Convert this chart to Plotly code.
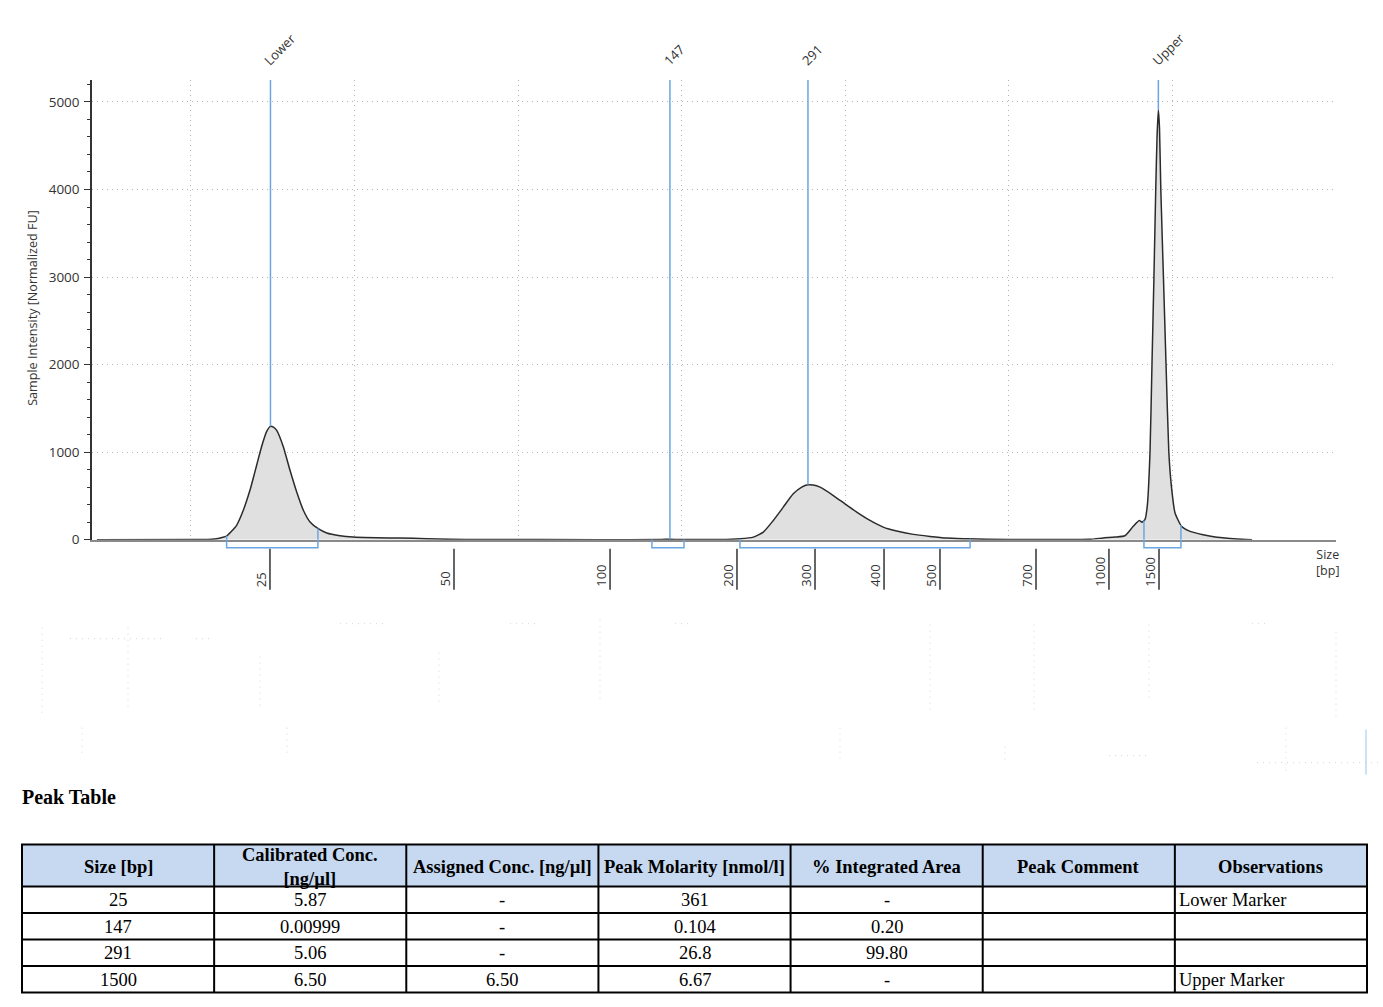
import numpy as np
import plotly.graph_objects as go

W, H = 1383, 1007
SY = 1.0085   # the snapshot comes back ~0.99 tall, so stretch page rows a touch

# ── data ────────────────────────────────────────────────────────────────────
# x axis is migration time (s); the size ladder is placed on it
ladder_bp = ["25", "50", "100", "200", "300", "400", "500", "700", "1000", "1500"]
ladder_t = [24.83, 36.08, 45.62, 53.38, 58.15, 62.37, 65.79, 71.66, 76.12, 79.18]

trace_t = [
    14.25, 20.55, 21.28, 21.57, 21.90, 22.18, 22.45, 22.79, 23.20, 23.61,
    24.02, 24.32, 24.63, 24.86, 25.04, 25.24, 25.64, 26.05, 26.46, 26.87,
    27.28, 27.78, 28.30, 29.11, 29.92, 31.35, 32.78, 34.41, 35.83, 37.67,
    45.00, 48.67, 49.28, 49.90, 52.34, 53.56, 54.38, 54.99, 55.60, 56.21,
    56.82, 57.34, 57.72, 58.03, 58.46, 59.27, 59.98, 60.70, 61.51, 62.32,
    63.14, 64.16, 65.18, 66.20, 67.42, 68.65, 71.29, 74.96, 75.76, 76.49,
    77.10, 77.59, 77.97, 78.14, 78.32, 78.46, 78.63, 78.75, 78.87, 78.98,
    79.06, 79.14, 79.21, 79.29, 79.45, 79.61, 79.78, 79.96, 80.16, 80.57,
    81.08, 81.87, 82.73, 83.95, 84.87,
]
trace_fu = [
    0, 2, 5, 11, 25, 42, 90, 165, 337, 567,
    854, 1065, 1237, 1295, 1285, 1249, 1065, 797, 548, 337,
    203, 126, 77, 46, 31, 23, 19, 12, 4, 2,
    1, 2, 6, 2, 2, 11, 30, 87, 220, 372,
    524, 600, 627, 625, 600, 505, 410, 315, 220, 144,
    99, 61, 38, 19, 11, 4, 2, 5, 20, 30,
    45, 150, 220, 200, 230, 380, 1000, 2000, 3000, 4000,
    4600, 4910, 4700, 4000, 3000, 2000, 1000, 570, 305, 150,
    95, 57, 27, 8, 0,
]

peak_names = ["Lower", "147", "291", "Upper"]
peak_t = [24.86, 49.28, 57.72, 79.14]
peak_fu = [1295, 6, 627, 4910]
peak_from = [22.18, 48.18, 53.56, 78.26]
peak_to = [27.76, 50.14, 67.63, 80.52]

tbl_header = ["Size [bp]", "Calibrated Conc.<br>[ng/µl]", "Assigned Conc. [ng/µl]",
              "Peak Molarity [nmol/l]", "% Integrated Area", "Peak Comment", "Observations"]
tbl_size = ["25", "147", "291", "1500"]
tbl_calib = ["5.87", "0.00999", "5.06", "6.50"]
tbl_assigned = ["-", "-", "-", "6.50"]
tbl_molarity = ["361", "0.104", "26.8", "6.67"]
tbl_area = ["-", "0.20", "99.80", "-"]
tbl_comment = ["", "", "", ""]
tbl_obs = ["Lower Marker", "", "", "Upper Marker"]

# faint leftovers of a hidden second panel (pixel segments: x0, y0, x1, y1)
ghost_dots = [
    (42, 628, 42, 717), (128, 628, 128, 712), (260, 657, 260, 707), (439, 653, 439, 707),
    (600, 620, 600, 700), (930, 625, 930, 712), (1034, 625, 1034, 712),
    (1149, 625, 1149, 702), (1336, 632, 1336, 717),
    (82, 728, 82, 758), (287, 728, 287, 758), (840, 728, 840, 763),
    (1005, 747, 1005, 762), (1286, 728, 1286, 772),
    (70, 639, 163, 639), (196, 639, 212, 639), (340, 624, 388, 624),
    (510, 624, 540, 624), (675, 624, 688, 624), (1252, 624, 1265, 624),
    (1109, 756, 1151, 756), (1257, 763, 1383, 763),
]

# ── style ───────────────────────────────────────────────────────────────────
FONT = "Open Sans, Noto Sans, sans-serif"
SERIF = "Liberation Serif, Times New Roman, serif"
TXT = "#333333"
BLUE = "#6aa6e2"
GRID = "#b4b4b4"
Y_TOP = 5251


def py(p):
    # pixel row -> paper y (margins are zero)
    return 1 - p * SY / H


def px(p):
    return p / W


fig = go.Figure()
fig.add_trace(go.Scatter(
    x=trace_t, y=trace_fu, mode="lines",
    line=dict(color="#2b2b2b", width=1.5, shape="spline", smoothing=0.5),
    fill="tozeroy", fillcolor="#e0e0e0",
    hoverinfo="skip", showlegend=False,
))

shapes = []
annotations = []

# size ladder ticks and labels under the axis
for bp, t in zip(ladder_bp, ladder_t):
    shapes.append(dict(type="line", xref="x", yref="paper", x0=t, x1=t,
                       y0=py(549), y1=py(590), line=dict(color=TXT, width=1.5)))
    annotations.append(dict(x=t, xref="x", y=py(589), yref="paper", text=bp,
                            textangle=-90, xanchor="center", yanchor="bottom",
                            xshift=-9, showarrow=False,
                            font=dict(family=FONT, size=13, color=TXT)))

# peak markers, labels and integration brackets
bracket_lo = np.interp(peak_from, trace_t, trace_fu)
bracket_hi = np.interp(peak_to, trace_t, trace_fu)
for name, t, v, a, b, va, vb in zip(peak_names, peak_t, peak_fu, peak_from, peak_to,
                                    bracket_lo, bracket_hi):
    shapes.append(dict(type="line", xref="x", yref="y", x0=t, x1=t, y0=v, y1=Y_TOP,
                       line=dict(color=BLUE, width=1.5)))
    shapes.append(dict(type="path", xref="x", yref="paper",
                       path=f"M {a},{py(540)} L {a},{py(548)} L {b},{py(548)} L {b},{py(540)}",
                       line=dict(color=BLUE, width=1.5)))
    shapes.append(dict(type="line", xref="x", yref="y", x0=a, x1=a, y0=0, y1=va,
                       line=dict(color=BLUE, width=1.5)))
    shapes.append(dict(type="line", xref="x", yref="y", x0=b, x1=b, y0=0, y1=vb,
                       line=dict(color=BLUE, width=1.5)))
    annotations.append(dict(x=t, xref="x", y=py(72), yref="paper", text=name,
                            textangle=-45, xanchor="left", yanchor="bottom",
                            xshift=-13, showarrow=False,
                            font=dict(family=FONT, size=13, color=TXT)))

annotations += [
    dict(x=px(33), y=py(308), xref="paper", yref="paper", xanchor="center", yanchor="middle",
         text="Sample Intensity [Normalized FU]", textangle=-90, showarrow=False,
         font=dict(family=FONT, size=12.6, color=TXT)),
    dict(x=px(1327), y=py(563), xref="paper", yref="paper", xanchor="center", yanchor="middle",
         text="Size<br>[bp]", showarrow=False, font=dict(family=FONT, size=12.5, color=TXT)),
    dict(x=px(20), y=py(797), xref="paper", yref="paper", xanchor="left", yanchor="middle",
         text="<b>Peak Table</b>", showarrow=False,
         font=dict(family=SERIF, size=20, color="black")),
]

for x0, y0, x1, y1 in ghost_dots:
    shapes.append(dict(type="line", xref="paper", yref="paper",
                       x0=px(x0), x1=px(x1), y0=py(y0), y1=py(y1),
                       line=dict(color="#d4d4d4", width=1, dash="1px,5px")))
shapes.append(dict(type="line", xref="paper", yref="paper", x0=px(1366), x1=px(1366),
                   y0=py(730), y1=py(775), line=dict(color="#9cc3ec", width=1)))

# ── peak table (drawn cell by cell) ─────────────────────────────────────────
tbl_cols = [tbl_size, tbl_calib, tbl_assigned, tbl_molarity, tbl_area, tbl_comment, tbl_obs]
T_LEFT, T_RIGHT = 22, 1367
col_w = (T_RIGHT - T_LEFT) / len(tbl_cols)
col_edges = [T_LEFT + i * col_w for i in range(len(tbl_cols) + 1)]
row_edges = [845, 887, 913.5, 940, 966.5, 993]

shapes.append(dict(type="rect", xref="paper", yref="paper",
                   x0=px(T_LEFT), x1=px(T_RIGHT), y0=py(row_edges[1]), y1=py(row_edges[0]),
                   fillcolor="#c6d9f1", line=dict(width=0), layer="below"))
for r in row_edges:
    shapes.append(dict(type="line", xref="paper", yref="paper",
                       x0=px(T_LEFT - 1), x1=px(T_RIGHT + 1), y0=py(r), y1=py(r),
                       line=dict(color="black", width=2)))
for c in col_edges:
    shapes.append(dict(type="line", xref="paper", yref="paper",
                       x0=px(c), x1=px(c), y0=py(row_edges[0]), y1=py(row_edges[-1]),
                       line=dict(color="black", width=2)))

for i, (head, col) in enumerate(zip(tbl_header, tbl_cols)):
    cx = (col_edges[i] + col_edges[i + 1]) / 2
    annotations.append(dict(x=px(cx), y=py((row_edges[0] + row_edges[1]) / 2 + 1),
                            xref="paper", yref="paper", xanchor="center", yanchor="middle",
                            text=f"<b>{head}</b>", showarrow=False,
                            font=dict(family=SERIF, size=18.5, color="black")))
    left = i == len(tbl_cols) - 1
    for j, val in enumerate(col):
        if not val:
            continue
        annotations.append(dict(
            x=px(col_edges[i] + 2) if left else px(cx),
            y=py((row_edges[j + 1] + row_edges[j + 2]) / 2 + 0.5),
            xref="paper", yref="paper", xanchor="left" if left else "center",
            yanchor="middle", text=val, showarrow=False,
            font=dict(family=SERIF, size=18.5, color="black")))

fig.update_layout(
    width=W, height=H,
    margin=dict(l=0, r=0, t=0, b=0),
    paper_bgcolor="white", plot_bgcolor="white",
    font=dict(family=FONT, color=TXT),
    showlegend=False,
    shapes=shapes, annotations=annotations,
    xaxis=dict(
        domain=[px(92), px(1336)], range=[13.95, 90],
        tick0=0, dtick=10, showticklabels=False, ticks="",
        showgrid=True, gridcolor=GRID, griddash="1px,4px", gridwidth=1,
        showline=True, linecolor="#8a8a8a", linewidth=1.5, zeroline=False,
    ),
    yaxis=dict(
        domain=[py(540), py(80)], range=[0, Y_TOP],
        tick0=0, dtick=1000, ticks="outside", ticklen=6, tickcolor=TXT,
        tickfont=dict(family=FONT, size=13.5, color=TXT), ticklabelstandoff=2,
        minor=dict(dtick=200, ticks="outside", ticklen=3, tickcolor=TXT, showgrid=False),
        showgrid=True, gridcolor=GRID, griddash="1px,4px", gridwidth=1,
        showline=True, linecolor=TXT, linewidth=1.5, zeroline=False,
    ),
)

fig.write_html("out.html", config={"displayModeBar": False},
               post_script="document.body.style.margin='0';")
